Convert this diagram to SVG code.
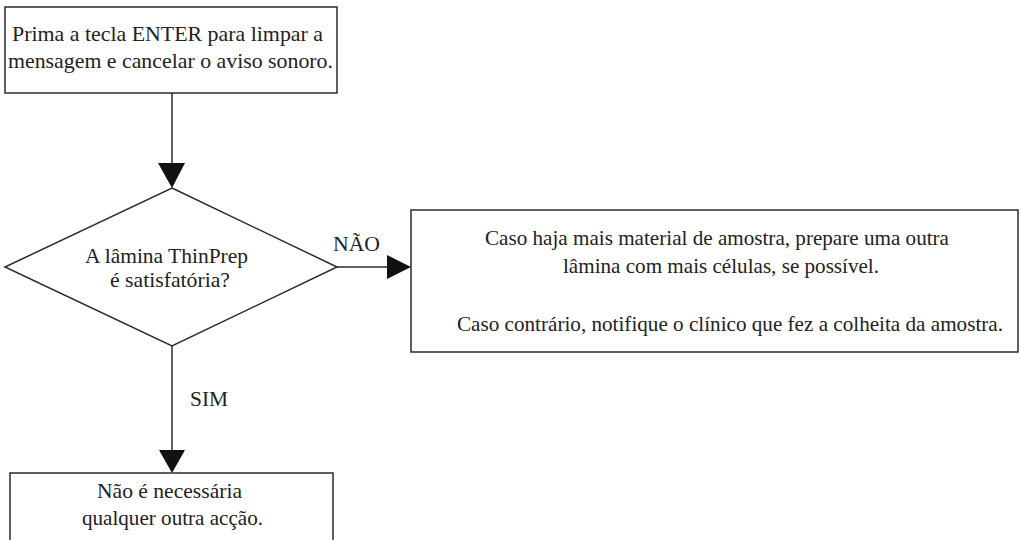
<svg xmlns="http://www.w3.org/2000/svg" width="1021" height="540" viewBox="0 0 1021 540">
<style>
.s{fill:#fff;stroke:#2b2b2b;stroke-width:1.5}
.t{font-family:"Liberation Serif","DejaVu Serif",serif;font-size:21px;fill:#222;text-anchor:middle}
.l{text-anchor:start}
.c{stroke:#2b2b2b;stroke-width:1.5;fill:none}
.a{fill:#111}
</style>
<rect width="1021" height="540" fill="#fff"/>
<g id="connectors">
<line class="c" x1="172" y1="93" x2="172" y2="165"/>
<polygon class="a" points="158,163 185,163 172,188"/>
<line class="c" x1="337" y1="267" x2="390" y2="267"/>
<polygon class="a" points="387,255 387,279 411,267"/>
<text class="t" x="356.5" y="251" textLength="47" lengthAdjust="spacingAndGlyphs">NÃO</text>
<line class="c" x1="172" y1="346" x2="172" y2="452"/>
<polygon class="a" points="159,450 185,450 172,473"/>
<text class="t" x="209" y="406" textLength="38" lengthAdjust="spacingAndGlyphs">SIM</text>
</g>
<g id="start">
<rect class="s" x="5" y="7" width="332" height="86"/>
<text class="t" x="167.5" y="41" textLength="311" lengthAdjust="spacingAndGlyphs">Prima a tecla ENTER para limpar a</text>
<text class="t" x="170.5" y="68" textLength="325" lengthAdjust="spacingAndGlyphs">mensagem e cancelar o aviso sonoro.</text>
</g>
<g id="decision">
<polygon class="s" points="172,188 337,267 172,346 5,267"/>
<text class="t" x="166.5" y="263" textLength="163" lengthAdjust="spacingAndGlyphs">A lâmina ThinPrep</text>
<text class="t" x="170" y="287" textLength="120" lengthAdjust="spacingAndGlyphs">é satisfatória?</text>
</g>
<g id="no-branch">
<rect class="s" x="411" y="210" width="607" height="142"/>
<text class="t l" x="485" y="245" textLength="464" lengthAdjust="spacingAndGlyphs">Caso haja mais material de amostra, prepare uma outra</text>
<text class="t l" x="563" y="273" textLength="316" lengthAdjust="spacingAndGlyphs">lâmina com mais células, se possível.</text>
<text class="t l" x="457" y="331" textLength="546" lengthAdjust="spacingAndGlyphs">Caso contrário, notifique o clínico que fez a colheita da amostra.</text>
</g>
<g id="yes-branch">
<rect class="s" x="10" y="473" width="323" height="80"/>
<text class="t" x="169.5" y="498" textLength="145" lengthAdjust="spacingAndGlyphs">Não é necessária</text>
<text class="t" x="172.5" y="525" textLength="181" lengthAdjust="spacingAndGlyphs">qualquer outra acção.</text>
</g>
</svg>
